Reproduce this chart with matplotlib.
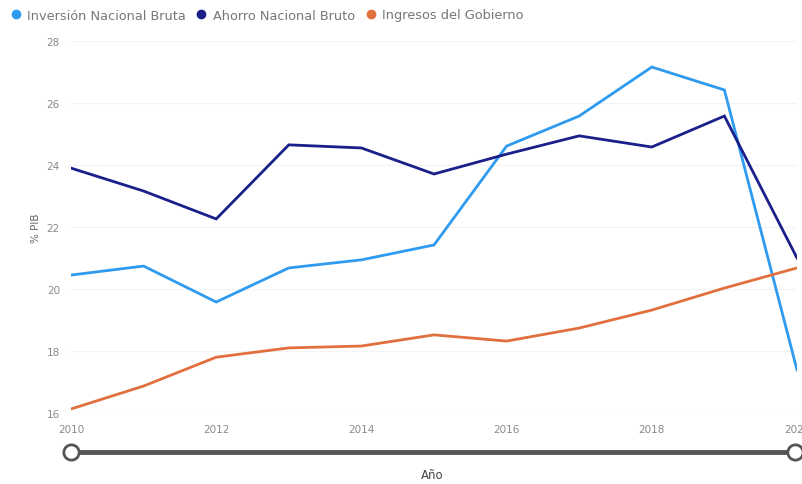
import matplotlib.pyplot as plt
from matplotlib.lines import Line2D

years = [2010, 2011, 2012, 2013, 2014, 2015, 2016, 2017, 2018, 2019, 2020]
inversion = [20.45, 20.74, 19.58, 20.68, 20.94, 21.42, 24.61, 25.58, 27.16, 26.42, 17.39]
ahorro = [23.90, 23.16, 22.26, 24.65, 24.55, 23.71, 24.35, 24.94, 24.58, 25.58, 21.00]
ingresos = [16.13, 16.87, 17.80, 18.10, 18.16, 18.52, 18.32, 18.74, 19.32, 20.03, 20.68]
series_names = ['Inversión Nacional Bruta', 'Ahorro Nacional Bruto', 'Ingresos del Gobierno']
colors = ['#2E9BF0', '#1B1F8A', '#E2703F']

fig = plt.figure(figsize=(8.02, 4.85), dpi=100)
ax = fig.add_axes([71 / 802, 1 - 414 / 485, 726 / 802, 372 / 485])

for vals, name, c in zip([inversion, ahorro, ingresos], series_names, colors):
    ax.plot(years, vals, color=c, lw=2.0, label=name, solid_joinstyle='miter')

ax.set_xlim(2010, 2020)
ax.set_ylim(16, 28)
ax.set_xticks([2010, 2012, 2014, 2016, 2018, 2020])
ax.set_yticks(range(16, 29, 2))
ax.tick_params(length=0, labelsize=7.5, labelcolor='#8a8a8a', pad=8)
ax.grid(axis='y', color='#f3f3f3', lw=0.8)
for s in ax.spines.values():
    s.set_visible(False)
ax.set_ylabel('% PIB', fontsize=7.5, color='#666666', labelpad=4)

# legend
handles = [Line2D([], [], marker='o', ls='', color=c, markersize=6) for c in colors]
fig.legend(handles, series_names, loc='center left', bbox_to_anchor=(0.0, 1 - 16 / 485), ncol=3,
           frameon=False, fontsize=9.3, handletextpad=-0.1, columnspacing=0.2,
           labelcolor='#777777', borderaxespad=0.0, borderpad=0.2)

# slider
y_sl = 1 - 453 / 485
fig.add_artist(Line2D([71 / 802, 795 / 802], [y_sl, y_sl], color='#555555', lw=3.5,
                      transform=fig.transFigure))
for xs in [71 / 802, 795 / 802]:
    fig.add_artist(Line2D([xs], [y_sl], marker='o', markersize=11, markerfacecolor='white',
                          markeredgecolor='#555555', markeredgewidth=2, transform=fig.transFigure))
fig.text(432 / 802, 1 - 476 / 485, 'Año', ha='center', va='center', fontsize=8.5, color='#444444')

fig.savefig('out.png', dpi=100)
